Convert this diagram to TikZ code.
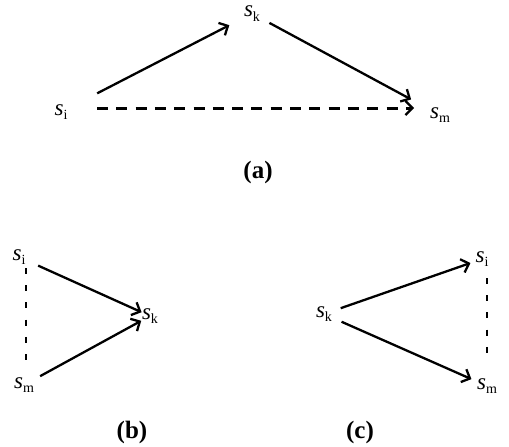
\documentclass[tikz,border=0pt]{standalone}
\usepackage{fontspec}
\setmainfont{Liberation Serif}
\usetikzlibrary{arrows.meta}
\newcommand{\sv}[1]{{\fontsize{23}{25}\selectfont\itshape s}\raisebox{-4.5pt}{\fontsize{14}{15}\selectfont #1}}
\tikzset{
  var/.style={inner sep=0pt},
  caplabel/.style={inner sep=0pt,font=\fontsize{25}{27}\selectfont\bfseries},
  arr/.style={line width=2.3pt,-{Straight Barb[length=7pt,width=14pt,line width=2.3pt]}},
  bigdash/.style={line width=3pt,dash pattern=on 11pt off 8.3pt,-{Straight Barb[length=7pt,width=14pt,line width=2.3pt]}},
  smalldash/.style={line width=1.5pt,dash pattern=on 6pt off 11.2pt}
}
\begin{document}
\begin{tikzpicture}[x=1pt,y=-1pt]
\useasboundingbox (0,0) rectangle (509,447);
% (a)
\node[var] (ai) at (61,112) {\sv{i}};
\node[var] (ak) at (252,13.5) {\sv{k}};
\node[var] (am) at (440,115) {\sv{m}};
\draw[arr,shorten <=40.7pt,shorten >=25.5pt] (ai.center) -- (ak.center);
\draw[arr,shorten <=19.8pt,shorten >=32.8pt] (ak.center) -- (am.center);
\draw[bigdash,shorten <=36pt,shorten >=26pt] ([yshift=4pt]ai.center) -- ([yshift=7pt]am.center);
\node[caplabel] (la) at (258,172) {(a)};
% (b)
\node[var] (bi) at (19,257) {\sv{i}};
\node[var] (bk) at (150,316) {\sv{k}};
\node[var] (bm) at (24,385) {\sv{m}};
\draw[arr,shorten <=21pt,shorten >=9.2pt] (bi.center) -- (bk.center);
\draw[arr,shorten <=18.4pt,shorten >=10pt] (bm.center) -- (bk.center);
\draw[smalldash] ([shift={(7,11)}]bi.center) -- ([shift={(2,-25)}]bm.center);
\node[caplabel] (lb) at (132,432) {(b)};
% (c)
\node[var] (ck) at (324,314) {\sv{k}};
\node[var] (ci) at (482,259) {\sv{i}};
\node[var] (cm) at (487,386) {\sv{m}};
\draw[arr,shorten <=17.7pt,shorten >=12.2pt] (ck.center) -- (ci.center);
\draw[arr,shorten <=19.2pt,shorten >=17pt] (ck.center) -- (cm.center);
\draw[smalldash] ([shift={(5,19)}]ci.center) -- ([shift={(0,-26)}]cm.center);
\node[caplabel] (lc) at (360,432) {(c)};
\end{tikzpicture}
\end{document}
